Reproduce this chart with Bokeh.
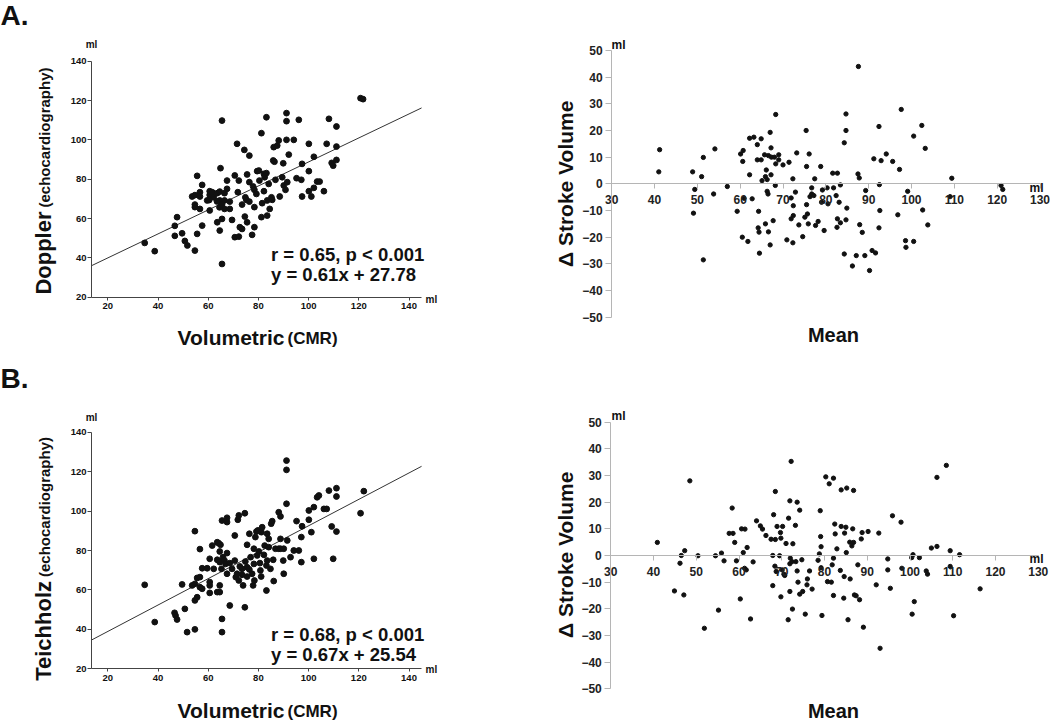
import math
from bokeh.plotting import figure
from bokeh.models import Range1d, Label, FixedTicker
from bokeh.layouts import column, row
from bokeh.embed import file_html
from bokeh.resources import INLINE

# ---------------- data ----------------
# Panel A left: Volumetric (CMR) vs Doppler (echocardiography), ml
cmr_a = [34.7, 38.7, 46.7, 47.6, 46.7, 49.6, 50.7, 51.7, 54.7, 55.6, 53.6, 54.7, 54.7, 54.7, 55.6, 56.7, 56.7,
         57.6, 57.6, 56.7, 59.6, 60.6, 60.6, 60.6, 61.6, 62.2, 63.6, 63.6, 64.6, 64.6, 64.9, 65.5, 65.5, 64.6,
         65.3, 65.5, 66.5, 66.5, 66.5, 67.5, 67.5, 68.6, 68.6, 69.5, 70.6, 70.6, 71.5, 71.8, 72.2, 72.2, 72.6,
         73.5, 73.5, 74.4, 74.6, 74.8, 75.2, 75.5, 75.5, 76.4, 76.4, 76.4, 77.5, 77.9, 78.4, 78.4, 78.4, 79.2,
         79.5, 80.2, 80.4, 81.2, 81.2, 81.5, 82.2, 82.2, 82.5, 83.2, 83.2, 83.5, 83.5, 84.1, 84.5, 85.2, 85.5,
         85.9, 86.1, 86.4, 86.8, 87.5, 88.1, 88.5, 89.5, 90.1, 89.9, 90.8, 91.2, 91.2, 91.2, 91.5, 92.1, 94.1,
         95.2, 96.1, 97.1, 97.4, 97.4, 100.1, 100.1, 100.1, 101.1, 102.1, 102.1, 103.4, 104.4, 106.1, 107.2,
         108.1, 109.2, 109.8, 111.1, 111.1, 111.1, 120.7, 121.7, 60.4, 63.5, 64.5, 65.5]
echo_a = [47.6, 43.4, 56.3, 60.7, 51.2, 52.5, 48.6, 46.3, 43.7, 81.7, 71.2, 71.9, 67.1, 65.8, 52.2, 73.4, 71.2,
          77.1, 56.4, 64.9, 69.2, 64.1, 73.9, 72.0, 73.4, 70.8, 72.9, 58.1, 73.7, 69.2, 85.6, 109.8, 36.9, 53.9,
          67.5, 59.8, 72.9, 69.2, 64.9, 75.1, 79.3, 64.9, 68.6, 59.3, 81.9, 50.5, 98.0, 73.4, 50.8, 79.3, 55.6,
          67.1, 54.7, 94.9, 61.0, 70.8, 69.5, 82.4, 58.1, 92.0, 78.5, 68.6, 51.7, 76.3, 55.6, 65.8, 74.6, 72.5,
          84.1, 84.4, 79.3, 103.4, 60.7, 67.8, 82.7, 73.9, 81.0, 111.5, 83.1, 69.2, 61.5, 77.6, 64.9, 70.8, 69.5,
          89.5, 96.3, 88.9, 79.7, 97.1, 99.7, 71.2, 81.0, 76.8, 88.1, 74.6, 113.6, 109.5, 100.0, 78.5, 92.5, 100.0,
          80.5, 110.2, 79.7, 87.8, 71.2, 98.0, 84.1, 73.9, 71.2, 91.4, 75.6, 78.8, 78.8, 73.9, 98.0,
          110.7, 88.3, 86.9, 106.8, 96.6, 89.8, 121.2, 120.7, 69.4, 68.7, 65.7, 67.1]

# Panel A right: Bland-Altman, mean vs difference (ml)
mean_a = [41.2, 41.0, 48.9, 49.4, 49.1, 51.0, 51.4, 51.4, 53.8, 54.1, 57.0, 59.3, 60.1, 60.7, 60.6, 60.5, 60.9,
          61.8, 62.2, 62.2, 63.2, 62.8, 64.0, 64.0, 64.9, 64.9, 64.3, 64.2, 64.4, 64.5, 65.1, 65.7, 66.1, 65.9,
          66.3, 65.9, 66.3, 66.5, 66.6, 66.6, 67.0, 67.2, 67.3, 67.2, 67.0, 67.7, 68.2, 68.3, 68.0, 68.3, 69.0,
          69.0, 70.0, 71.4, 71.9, 72.3, 72.4, 72.4, 71.9, 70.9, 72.3, 72.9, 73.2, 73.7, 74.6, 75.1, 75.4, 75.5,
          75.5, 75.7, 76.1, 75.9, 76.3, 76.7, 76.7, 77.2, 77.4, 77.6, 78.2, 78.8, 79.2, 79.0, 79.6, 80.3, 80.5,
          81.6, 82.7, 81.8, 82.4, 83.1, 83.4, 82.7, 83.4, 82.6, 84.9, 84.7, 84.3, 84.3, 84.7, 84.7, 87.6, 87.5,
          87.8, 87.9, 88.5, 89.3, 87.1, 86.2, 89.1, 90.2, 90.8, 91.6, 91.2, 92.4, 92.5, 92.6, 92.4, 92.9, 94.1,
          95.6, 96.8, 97.2, 97.6, 99.1, 98.6, 98.7, 100.5, 100.5, 102.4, 102.6, 103.2, 103.8, 109.0, 109.4,
          120.9, 121.3]
diff_a = [12.8, 4.5, 4.5, -2.1, -11.0, 2.7, 9.9, -28.5, -3.8, 13.1, -1.0, -10.3, 11.2, 12.5, 8.4, -20.0, -5.4,
          -21.6, 3.4, 17.1, 17.5, -5.6, 14.7, 9.0, 16.9, 9.0, -10.3, -16.5, -18.1, -26.0, 1.2, 10.9, 5.2, 2.7,
          1.6, -15.0, -2.8, -3.8, -18.0, 10.6, 19.3, 13.5, 10.0, 3.4, -22.9, -13.8, -0.6, 26.0, 10.0, 7.5, 10.9,
          9.0, 7.1, 8.1, -5.3, 1.9, -8.2, -11.9, -13.1, -21.0, -22.1, -3.1, 11.6, -15.4, -19.8, -12.5, 20.0, 6.5,
          -7.8, -11.3, 11.2, -15.0, -4.8, -1.5, -3.8, -4.4, 1.9, -15.6, -14.1, 6.5, -2.3, -6.9, -17.5, -1.5, -7.5,
          4.0, 4.0, -1.5, -4.4, -6.9, -0.4, -13.1, -14.6, -16.3, -9.1, -13.5, -26.3, 15.4, 20.0, 26.2, 44.0, 3.7,
          2.2, -15.3, -18.2, -2.5, -26.9, -30.8, -26.9, -32.5, -25.0, -25.9, 9.4, 21.5, -0.3, -10.0, -16.5, 8.7,
          11.2, 8.4, -11.6, 5.4, 27.9, -2.8, -21.3, -23.8, -21.6, 17.9, 21.9, -9.8, 13.3, -15.4, -4.8, 2.1,
          -0.6, -2.1]

# Panel B left: Volumetric (CMR) vs Teichholz (echocardiography), ml
cmr_b = [34.7, 38.7, 46.6, 47.0, 47.6, 49.6, 50.7, 51.6, 54.7, 54.7, 53.6, 54.7, 54.7, 55.6, 55.6, 56.7, 56.7,
         57.6, 57.6, 56.7, 59.6, 60.6, 60.6, 60.6, 60.6, 61.6, 62.2, 63.6, 63.6, 64.2, 63.6, 64.6, 64.6, 64.6,
         64.6, 64.9, 65.5, 65.5, 65.5, 65.3, 65.9, 66.5, 66.9, 67.5, 67.5, 67.5, 67.5, 68.6, 68.6, 69.5, 70.6,
         70.6, 71.0, 71.8, 72.2, 72.2, 71.5, 72.6, 73.5, 73.5, 73.9, 74.6, 74.6, 74.8, 75.5, 75.5, 75.5, 76.4,
         76.4, 76.9, 77.5, 77.9, 78.2, 78.2, 78.4, 78.8, 79.2, 79.5, 79.8, 80.2, 80.6, 80.8, 81.1, 81.2, 81.5,
         82.2, 82.5, 83.2, 83.2, 83.5, 83.5, 84.1, 84.1, 84.8, 85.1, 85.5, 85.9, 86.1, 86.8, 88.1, 88.1, 88.8,
         88.8, 88.8, 89.9, 90.1, 90.1, 91.2, 91.2, 91.2, 91.5, 92.8, 94.1, 95.2, 96.1, 97.1, 97.1, 97.4, 100.1,
         100.1, 101.1, 102.1, 102.1, 103.4, 104.1, 106.1, 107.2, 108.1, 109.2, 109.8, 111.1, 111.1, 111.1,
         120.7, 122.0]
echo_b = [62.6, 43.7, 48.4, 47.0, 45.0, 62.8, 50.4, 38.6, 40.0, 89.8, 62.3, 63.1, 54.7, 56.3, 66.1, 66.5, 80.7,
          71.0, 60.6, 61.4, 71.0, 75.8, 64.0, 62.3, 58.5, 82.5, 70.7, 75.3, 84.2, 83.7, 58.9, 79.5, 74.1, 62.3,
          58.9, 82.9, 95.2, 45.3, 38.6, 70.7, 76.6, 74.9, 73.2, 78.7, 68.2, 96.6, 94.4, 52.1, 73.6, 70.7, 87.6,
          74.9, 66.5, 95.6, 97.8, 64.8, 68.2, 71.9, 70.7, 67.7, 62.3, 51.2, 98.9, 74.4, 82.9, 71.5, 66.8, 70.4,
          88.5, 76.6, 68.2, 62.3, 80.9, 73.2, 64.8, 86.8, 89.6, 77.5, 90.2, 79.5, 73.6, 69.9, 66.8, 89.3, 91.8,
          77.8, 82.5, 59.7, 72.4, 74.9, 88.5, 85.9, 81.7, 70.7, 93.6, 94.9, 75.3, 64.5, 80.9, 80.9, 99.4, 80.9,
          85.9, 97.3, 74.9, 80.9, 68.2, 125.6, 120.9, 103.7, 85.1, 76.6, 80.0, 94.9, 80.0, 74.1, 86.8, 92.3, 100.3,
          95.6, 89.3, 102.0, 75.8, 107.0, 107.9, 101.1, 101.1, 110.4, 92.2, 75.8, 111.6, 107.4, 89.6,
          98.9, 110.1]

# Panel B right: Bland-Altman, mean vs difference (ml)
mean_b = [40.9, 48.5, 46.2, 46.5, 47.3, 44.9, 47.1, 50.4, 51.9, 54.5, 55.9, 56.5, 55.2, 58.4, 57.7, 58.6, 59.0,
          59.4, 60.3, 60.6, 61.4, 61.9, 61.0, 61.3, 61.7, 62.7, 63.3, 64.1, 65.0, 65.5, 66.3, 67.5, 67.9, 68.1,
          68.5, 68.5, 68.4, 68.7, 67.9, 68.9, 69.5, 69.7, 69.8, 70.2, 70.1, 70.5, 70.7, 69.8, 71.0, 71.6, 71.9,
          72.2, 71.9, 72.0, 72.4, 72.6, 71.9, 71.5, 72.5, 73.2, 73.6, 74.2, 73.3, 73.6, 73.8, 74.2, 74.7, 74.9,
          75.5, 75.9, 76.0, 76.5, 77.1, 79.0, 79.1, 79.2, 78.8, 78.5, 79.2, 79.4, 80.7, 80.3, 81.1,
          82.1, 83.9, 85.2, 86.8, 82.4, 82.5, 83.9, 85.0, 84.7, 86.6, 85.9, 86.4, 86.8, 82.9, 85.1, 88.6, 88.8,
          90.2, 92.7, 82.1, 81.8, 83.7, 84.6, 86.0, 87.8, 81.6, 82.1, 84.5, 87.0, 87.4, 88.2, 85.5, 89.1, 92.1,
          93.0, 94.8, 94.8, 95.4, 95.9, 97.9, 98.1, 100.4, 100.7, 102.2, 101.0, 100.5, 103.8, 104.1, 105.0,
          106.3, 106.3, 108.5, 109.4, 109.4, 111.6, 110.2, 116.4]
diff_b = [4.9, 28.0, -2.9, 0.0, 1.8, -13.3, -14.8, -0.1, -27.3, -0.1, 0.9, -2.0, -20.5, 17.8, 8.3, 8.3, 4.9,
          -2.0, -16.3, 10.0, 9.9, 3.0, 1.1, -4.8, -5.4, -23.8, -2.4, 13.0, 11.1, 9.9, 7.5, 6.1, 0.0, 15.3,
          24.0, 6.0, -4.0, -6.0, -11.3, 10.9, -0.1, 8.6, 6.5, 10.9, -5.4, -7.0, -7.5, -15.5, 4.5, 14.0, 20.5,
          35.3, -3.1, -1.0, -2.3, 4.4, -13.5, -24.1, -20.1, 11.3, 20.0, 17.0, -2.3, -5.8, -10.0, -14.5, -1.6,
          -13.5, -22.0, -11.0, -8.8, -5.8, -12.6, 16.8, 7.1, 3.3, 0.6, -1.8, -4.6, -22.5, -9.8, 29.5, 26.9,
          29.0, 24.6, 25.3, 24.4, 11.8, 8.1, 10.9, 10.6, 8.4, 10.0, 5.0, 3.6, 4.9, 2.5, 1.1, 6.2, 8.6,
          9.0, 8.4, -1.0, -3.5, -5.6, -7.9, -8.8, -3.5, -10.0, -15.0, -16.0, -14.8, -15.1, -16.6, -24.1, -26.9,
          -11.0, -34.8, -1.3, -5.4, -12.3, 14.9, 12.5, -4.8, -0.8, 0.3, -0.8, -17.3, -22.0, -5.8, -7.0, 2.8,
          3.4, 29.3, 33.8, 1.8, -4.1, 0.3, -22.6, -12.5]

# regression lines and statistics
slope_a, icpt_a = 0.61, 27.78
slope_b, icpt_b = 0.67, 25.54
stats_a = ["r = 0.65, p < 0.001", "y = 0.61x + 27.78"]
stats_b = ["r = 0.68, p < 0.001", "y = 0.67x + 25.54"]
scatter_ticks = [20, 40, 60, 80, 100, 120, 140]
ba_xticks = [30, 40, 50, 60, 70, 80, 90, 100, 110, 120, 130]
ba_yticks = [-50, -40, -30, -20, -10, 0, 10, 20, 30, 40, 50]

# ---------------- styling ----------------
SANS = "'Liberation Sans', Arial, sans-serif"
INK = "#111111"


def make_fig(W, H, xv, xp, yv, yp):
    """Figure whose frame is the whole canvas; value xv[i] sits at pixel xp[i]."""
    kx = (xv[1] - xv[0]) / (xp[1] - xp[0])
    xr = Range1d(xv[0] - xp[0] * kx, xv[0] + (W - xp[0]) * kx)
    ky = (yv[0] - yv[1]) / (yp[1] - yp[0])
    yr = Range1d(yv[1] - (H - yp[1]) * ky, yv[0] + yp[0] * ky)
    p = figure(width=W, height=H, x_range=xr, y_range=yr, title=None,
               output_backend="svg", toolbar_location=None, min_border=0)
    p.grid.visible = False
    p.outline_line_color = None
    p.background_fill_color = "white"
    p.border_fill_color = "white"
    return p


def lab(p, text, px, py, size, align="left", angle=0.0, style="bold", color=INK):
    """Text centred vertically on canvas pixel (px, py)."""
    xr, yr = p.x_range, p.y_range
    x = xr.start + px * (xr.end - xr.start) / p.width
    y = yr.end - py * (yr.end - yr.start) / p.height
    p.add_layout(Label(x=x, y=y, text=text, text_font=SANS, text_font_size=f"{size}px",
                       text_font_style=style, text_align=align, text_baseline="middle",
                       angle=angle, text_color=color))


def style_axes(p, color, size, label_color):
    for ax in (p.xaxis[0], p.yaxis[0]):
        ax.axis_line_color = color
        ax.major_tick_line_color = color
        ax.minor_tick_line_color = None
        ax.major_tick_in = 0
        ax.major_label_text_font = SANS
        ax.major_label_text_font_style = "bold"
        ax.major_label_text_font_size = size
        ax.major_label_text_color = label_color


def scatter_panel(H, ypix, cmr, echo, slope, icpt, method, stats, letter, t):
    p = make_fig(540, H, (20, 120), (107.3, 358.3), (140, 20), ypix)
    style_axes(p, "#444444", "9.5px", INK)
    p.xaxis.fixed_location = 20
    p.xaxis.bounds = (13.5, 145)
    p.yaxis.fixed_location = 13.5
    p.yaxis.bounds = (20, 140)
    p.xaxis.ticker = FixedTicker(ticks=scatter_ticks)
    p.yaxis.ticker = FixedTicker(ticks=scatter_ticks)
    p.xaxis.major_tick_out = 3
    p.xaxis.major_label_standoff = 3
    p.yaxis.major_tick_out = 4
    p.yaxis.major_label_standoff = 1
    reg_x = [13.5, 145]
    p.line(reg_x, [slope * v + icpt for v in reg_x], line_color="#333333", line_width=1)
    p.scatter(cmr, echo, size=5.8, color=INK)
    lab(p, letter, 0, t["letter"], 28)
    lab(p, "ml", 91, t["ml_top"], 10, align="center")
    lab(p, "ml", 425, t["ml_right"], 10)
    lab(p, stats[0], 270.5, t["stat1"], 18.5)
    lab(p, stats[1], 270.5, t["stat2"], 18.5)
    lab(p, "Volumetric", 284, t["vol"], 21, align="right")
    lab(p, "(CMR)", 287, t["vol"] + 1, 17)
    lab(p, method, 43, t["junction"] + 2, 22, align="right", angle=math.pi / 2)
    lab(p, "(echocardiography)", 44, t["junction"] - 2, 15, align="left", angle=math.pi / 2)
    return p


def ba_panel(H, xpix, ypix, mean, diff, t):
    p = make_fig(510, H, (40, 120), xpix, (50, -50), ypix)
    style_axes(p, "#b5b5b5", "12px", "#222222")
    p.xaxis.fixed_location = 0
    p.xaxis.bounds = (30, 130)
    p.yaxis.fixed_location = 30
    p.yaxis.bounds = (-50, 50)
    p.xaxis.ticker = FixedTicker(ticks=ba_xticks)
    p.yaxis.ticker = FixedTicker(ticks=ba_yticks)
    p.xaxis.major_tick_out = 5
    p.xaxis.major_label_standoff = 6
    p.yaxis.major_tick_out = 6
    p.yaxis.major_label_standoff = 3
    p.scatter(mean, diff, size=4.3, color=INK)
    lab(p, "\u0394 Stroke Volume", 24.5, t["zero"], 21, align="center", angle=math.pi / 2)
    lab(p, "Mean", 293, t["mean"], 20, align="center")
    lab(p, "ml", 71, t["ml_top"], 12)
    lab(p, "ml", 489, t["ml_axis"], 12)
    return p


pa = scatter_panel(362, (60.7, 296.7), cmr_a, echo_a, slope_a, icpt_a, "Doppler", stats_a, "A.",
                   dict(letter=15, ml_top=43.5, ml_right=299, stat1=254, stat2=274, vol=337,
                        junction=209))
pb = ba_panel(362, (114, 456.7), (50, 316.7), mean_a, diff_a,
              dict(zero=183.3, mean=334, ml_top=44, ml_axis=187))
pc = scatter_panel(362, (69.7, 306.3), cmr_b, echo_b, slope_b, icpt_b, "Teichholz", stats_b, "B.",
                   dict(letter=16, ml_top=54.7, ml_right=307, stat1=272, stat2=291.5, vol=348,
                        junction=216.5))
pd = ba_panel(362, (113, 455), (59.7, 326.3), mean_b, diff_b,
              dict(zero=192.3, mean=348, ml_top=53, ml_axis=196))

layout = column(row(pa, pb), row(pc, pd))
open("out.html", "w").write(file_html(layout, INLINE))
